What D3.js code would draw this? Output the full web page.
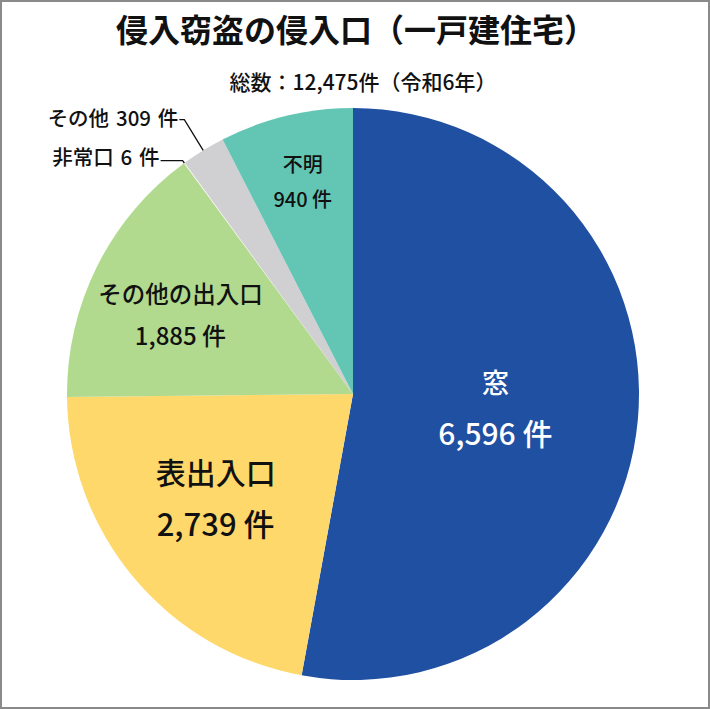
<!DOCTYPE html>
<html>
<head>
<meta charset="utf-8">
<script src="https://cdn.jsdelivr.net/npm/d3@7/dist/d3.min.js"></script>
<style>
  body { margin: 0; background: #fff; }
  svg { display: block; font-family: "Noto Sans CJK JP", "Noto Sans", sans-serif; }
</style>
</head>
<body>
<div class="pie-chart"></div>
<script>
// data
const categories = ['窓', '表出入口', 'その他の出入口', '非常口', 'その他', '不明'];
const counts = [6596, 2739, 1885, 6, 309, 940];
const colors = ['#2050a2', '#fed86a', '#b1da8f', '#f2f2f2', '#d0cfd1', '#63c6b4'];
const title = '侵入窃盗の侵入口（一戸建住宅）';
const subtitle = '総数：12,475件（令和6年）';

const width = 710;
const height = 709;
const cx = 353, cy = 394, R = 286;

const svg = d3.select('.pie-chart')
	.append('svg')
	.attr('width', width)
	.attr('height', height);

svg.append('rect')
	.attr('x', 1).attr('y', 1)
	.attr('width', width - 2).attr('height', height - 2)
	.attr('fill', '#fff')
	.attr('stroke', '#8a8a8a')
	.attr('stroke-width', 2);

svg.append('text')
	.attr('x', 356).attr('y', 28)
	.attr('text-anchor', 'middle')
	.attr('dominant-baseline', 'central')
	.attr('font-size', '32px')
	.attr('font-weight', 700)
	.attr('fill', '#111')
	.text(title);

svg.append('text')
	.attr('x', 363).attr('y', 81)
	.attr('text-anchor', 'middle')
	.attr('dominant-baseline', 'central')
	.attr('font-size', '21px')
	.attr('font-weight', 500)
	.attr('fill', '#111')
	.text(subtitle);

const data = categories.map((c, i) => ({name: c, value: counts[i], color: colors[i]}));

const pie = d3.pie().sort(null).value(d => d.value);
const arcs = pie(data);
const arc = d3.arc().innerRadius(0).outerRadius(R);

const g = svg.append('g').attr('transform', `translate(${cx},${cy})`);

g.selectAll('path')
	.data(arcs)
	.enter()
	.append('path')
	.attr('d', arc)
	.attr('fill', d => d.data.color);

// inside labels: radius fraction, angle shift (deg), font sizes, line gap
const inside = {
	'窓':          {k: 0.50, shift: 0,    f1: 27, f2: 30, gap: 51, color: '#fff'},
	'表出入口':     {k: 0.60, shift: 3.3,  f1: 30, f2: 31, gap: 51, color: '#111'},
	'その他の出入口': {k: 0.665, shift: -1.7, f1: 23.5, f2: 24, gap: 42, color: '#111'},
	'不明':        {k: 0.766, shift: 0.3,  f1: 20, f2: 20, gap: 35, color: '#111'}
};

const fmt = d3.format(',');

arcs.filter(d => inside[d.data.name]).forEach(d => {
	const o = inside[d.data.name];
	const a = (d.startAngle + d.endAngle) / 2 + o.shift * Math.PI / 180;
	const x = Math.sin(a) * R * o.k;
	const y = -Math.cos(a) * R * o.k;
	const t = g.append('g').attr('fill', o.color).attr('font-weight', 500)
		.attr('text-anchor', 'middle').attr('dominant-baseline', 'central');
	t.append('text').attr('x', x).attr('y', y - o.gap / 2)
		.attr('font-size', o.f1 + 'px').text(d.data.name);
	t.append('text').attr('x', x).attr('y', y + o.gap / 2)
		.attr('font-size', o.f2 + 'px').text(fmt(d.data.value) + ' 件');
});

// outside labels with leader lines
const outside = {
	'非常口': {ext: 3,  len: 22, dy: -5, tx: -1},
	'その他': {ext: 36, len: 5,  dy: -3, tx: -1}
};

arcs.filter(d => outside[d.data.name]).forEach(d => {
	const o = outside[d.data.name];
	const a = (d.startAngle + d.endAngle) / 2;
	const p0 = [Math.sin(a) * R, -Math.cos(a) * R];
	const p1 = [Math.sin(a) * (R + o.ext), -Math.cos(a) * (R + o.ext)];
	const p2 = [p1[0] - o.len, p1[1]];
	g.append('path')
		.attr('d', d3.line()([p0, p1, p2]))
		.attr('fill', 'none')
		.attr('stroke', '#111')
		.attr('stroke-width', 1.3);
	g.append('text')
		.attr('x', p2[0] + o.tx)
		.attr('y', p2[1] + o.dy)
		.attr('text-anchor', 'end')
		.attr('dominant-baseline', 'central')
		.attr('font-size', '20.5px')
		.attr('font-weight', 500)
		.attr('fill', '#111')
		.text(d.data.name + '\u2004' + fmt(d.data.value) + '\u2004件');
});
</script>
</body>
</html>
